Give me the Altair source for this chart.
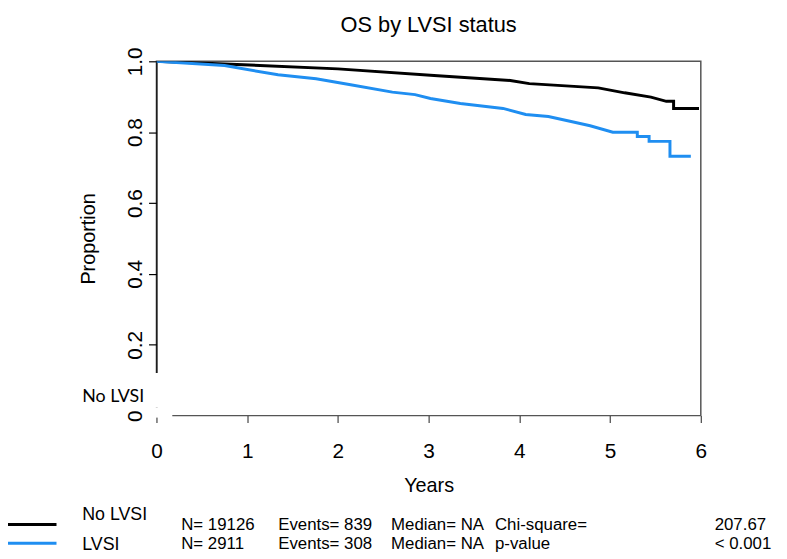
import altair as alt
import pandas as pd

# ---- data (Kaplan-Meier estimates) ----
years_no_lvsi = [0, 0.75, 2.0, 3.06, 3.9, 4.11, 4.87, 5.16, 5.45, 5.62, 5.70, 5.70, 5.98]
surv_no_lvsi = [1.0, 0.9925, 0.9786, 0.960, 0.946, 0.937, 0.925, 0.911, 0.899, 0.887, 0.887, 0.867, 0.867]

years_lvsi = [0, 0.75, 1.34, 1.76, 2.14, 2.6, 2.85, 3.02, 3.35, 3.82, 4.07, 4.32, 4.57, 4.78,
              5.03, 5.30, 5.30, 5.43, 5.43, 5.66, 5.66, 5.89]
surv_lvsi = [1.0, 0.988, 0.962, 0.951, 0.934, 0.913, 0.906, 0.895, 0.881, 0.867, 0.850, 0.844,
             0.830, 0.818, 0.800, 0.800, 0.788, 0.788, 0.774, 0.774, 0.732, 0.732]

groups = ["No LVSI", "LVSI"]
colors = ["#000000", "#1f8ef1"]
n_text = ["N= 19126", "N= 2911"]
events_text = ["Events= 839", "Events= 308"]
median_text = ["Median= NA", "Median= NA"]
stat_label = ["Chi-square=", "p-value"]
stat_value = ["207.67", "< 0.001"]

x_ticks = [0, 1, 2, 3, 4, 5, 6]
y_ticks = [0, 0.2, 0.4, 0.6, 0.8, 1.0]
title_text = "OS by LVSI status"

rows = []
for i, (t, s) in enumerate(zip(years_no_lvsi, surv_no_lvsi)):
    rows.append({"group": groups[0], "years": t, "surv": s, "ord": i})
for i, (t, s) in enumerate(zip(years_lvsi, surv_lvsi)):
    rows.append({"group": groups[1], "years": t, "surv": s, "ord": i})
df = pd.DataFrame(rows)
one = pd.DataFrame({"k": [0]})  # single row for annotation marks

AX_FONT = "Liberation Sans"

x_enc = alt.X("years:Q", scale=alt.Scale(domain=[0, 6], nice=False),
              axis=alt.Axis(values=x_ticks, title="Years", domain=False, grid=False,
                            tickColor="#444", tickSize=7, tickWidth=1.2,
                            labelFont=AX_FONT, labelFontSize=21, labelColor="#000",
                            labelPadding=18, labelFlush=False,
                            titleFont=AX_FONT, titleFontSize=20, titleFontWeight="normal",
                            titleColor="#000", titlePadding=15))
y_enc = alt.Y("surv:Q", scale=alt.Scale(domain=[0, 1], nice=False),
              axis=alt.Axis(values=y_ticks, title="Proportion", grid=False,
                            domainColor="#000", domainWidth=1.2,
                            tickColor="#000", tickSize=8, tickWidth=1.2,
                            labelExpr="datum.value == 0 ? '0' : format(datum.value, '.1f')",
                            labelAngle=-90, labelAlign="center", labelBaseline="bottom",
                            labelFont=AX_FONT, labelFontSize=21, labelColor="#000",
                            labelPadding=3, labelFlush=False,
                            titleFont=AX_FONT, titleFontSize=20, titleFontWeight="normal",
                            titleColor="#000", titlePadding=27))

lines = alt.Chart(df).mark_line(strokeWidth=3, clip=True).encode(
    x=x_enc,
    y=y_enc,
    color=alt.Color("group:N", scale=alt.Scale(domain=groups, range=colors), legend=None),
    order="ord:Q",
    detail="group:N",
)

layers = [lines]

# title
layers.append(alt.Chart(one).mark_text(font=AX_FONT, fontSize=22, align="center",
                                       baseline="middle", color="#000").encode(
    x=alt.value(275), y=alt.value(-37), text=alt.value(title_text)))

# white patch of the pasted-in "No LVSI" label near the y axis
layers.append(alt.Chart(one).mark_rect(color="white").encode(
    x=alt.value(-80), x2=alt.value(16), y=alt.value(315), y2=alt.value(350)))
layers.append(alt.Chart(one).mark_rect(color="white").encode(
    x=alt.value(-12), x2=alt.value(16), y=alt.value(350), y2=alt.value(360)))
layers.append(alt.Chart(one).mark_text(font="Lato", fontSize=18, align="left",
                                       baseline="middle", color="#000").encode(
    x=alt.value(-75), y=alt.value(339), text=alt.value(groups[0])))

# bottom legend
row_y_line = [468, 487]
row_y_name = [458, 489]
row_y_text = [469, 488]
for r in range(2):
    layers.append(alt.Chart(one).mark_rule(strokeWidth=3, color=colors[r]).encode(
        x=alt.value(-158), x2=alt.value(-101), y=alt.value(row_y_line[r])))
    layers.append(alt.Chart(one).mark_text(font=AX_FONT, fontSize=18, align="left",
                                           baseline="middle", color="#000").encode(
        x=alt.value(-75), y=alt.value(row_y_name[r]), text=alt.value(groups[r])))
    for col_x, col in [(25, n_text), (123, events_text), (237, median_text),
                       (342, stat_label), (564, stat_value)]:
        layers.append(alt.Chart(one).mark_text(font=AX_FONT, fontSize=17, align="left",
                                               baseline="middle", color="#000").encode(
            x=alt.value(col_x), y=alt.value(row_y_text[r]), text=alt.value(col[r])))

chart = alt.layer(*layers).properties(
    width=550,
    height=358,
    autosize=alt.AutoSizeParams(type="none"),
    padding={"left": 150, "top": 51, "right": 79, "bottom": 142},
).configure_view(stroke="#555", strokeWidth=1.5)

chart.save("out.html", embed_options={"renderer": "svg", "actions": False})
